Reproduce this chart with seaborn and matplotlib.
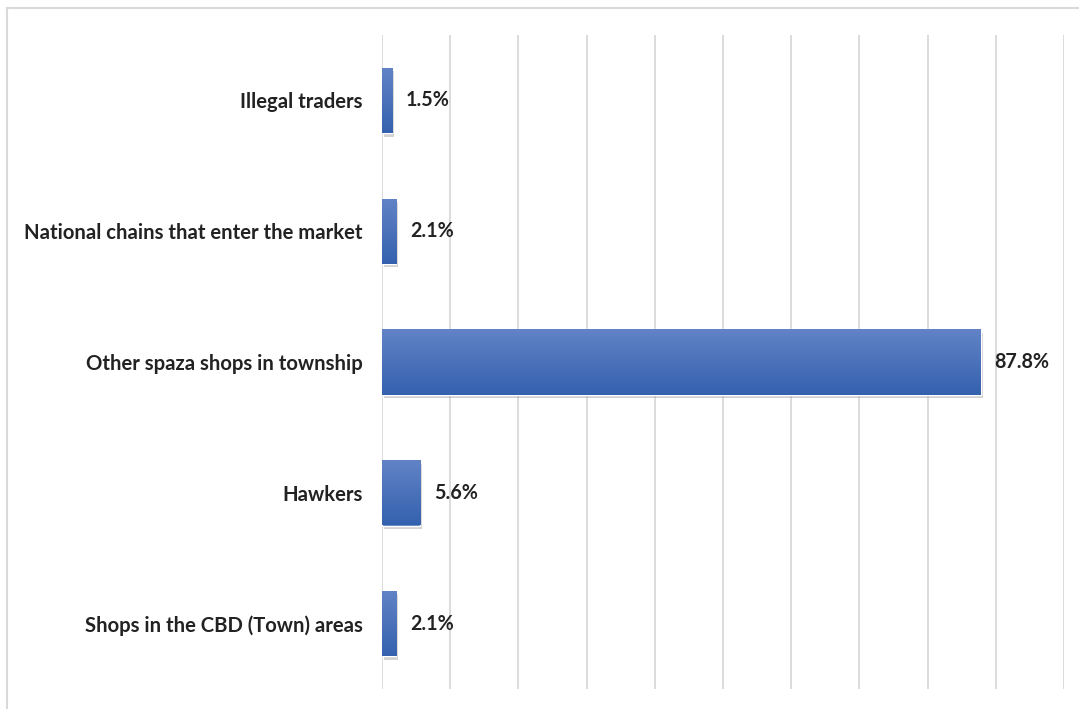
import numpy as np
import pandas as pd
import matplotlib
matplotlib.use("Agg")
import matplotlib.pyplot as plt
import matplotlib.patheffects as pe
import seaborn as sns

categories = ["Illegal traders", "National chains that enter the market",
              "Other spaza shops in township", "Hawkers", "Shops in the CBD (Town) areas"]
values = [1.5, 2.1, 87.8, 5.6, 2.1]
value_labels = ["1.5%", "2.1%", "87.8%", "5.6%", "2.1%"]

sns.set_theme(style="white")
plt.rcParams['font.family'] = ['Lato', 'DejaVu Sans']

df = pd.DataFrame({"cat": categories, "val": values})

fig = plt.figure(figsize=(10.79, 7.09), dpi=100)
ax = fig.add_axes([382/1079, 1-689/709, (1064-382)/1079, (689-35)/709])

sns.barplot(data=df, y="cat", x="val", orient="h", color="#4470b8", width=0.5,
            ax=ax, saturation=1)

ax.set_xlim(0, 100)
ax.set_ylim(4.5, -0.5)
ax.set_xticks(np.arange(0, 101, 10))
ax.set_xticklabels([])
ax.tick_params(axis='x', length=0)
ax.tick_params(axis='y', length=0, pad=14)
ax.grid(axis='x', color='#d9d9d9', linewidth=1.3)
ax.set_axisbelow(True)
for s in ax.spines.values():
    s.set_visible(False)
ax.set_xlabel("")
ax.set_ylabel("")
for lbl in ax.get_yticklabels():
    lbl.set_fontweight('bold')
    lbl.set_fontsize(14.6)
    lbl.set_color('#222222')

# gradient fill + shadow
grad = np.linspace(0, 1, 256).reshape(-1, 1)
cmap = matplotlib.colors.LinearSegmentedColormap.from_list("g", ["#6283c6", "#3461ae"])
for p, lab in zip(ax.patches, value_labels):
    p.set_path_effects([pe.SimplePatchShadow(offset=(1.5, -2.5), shadow_rgbFace='#808080', alpha=0.35),
                        pe.Normal()])
    x0, y0 = p.get_x(), p.get_y()
    w, h = p.get_width(), p.get_height()
    im = ax.imshow(grad, extent=[x0, x0 + w, y0 + h, y0], cmap=cmap, aspect='auto',
                   zorder=p.get_zorder() + 0.1, origin='upper')
    im.set_clip_path(p)
    ax.text(x0 + w + 2.0, y0 + h / 2, lab, va='center', ha='left', fontsize=14.2,
            fontweight='bold', color='#222222')
ax.set_xlim(0, 100)
ax.set_ylim(4.5, -0.5)

# outer frame (top and left)
fig.add_artist(plt.Line2D([7/1079, 1], [1-8/709, 1-8/709], color='#d9d9d9', lw=1.5))
fig.add_artist(plt.Line2D([7/1079, 7/1079], [0, 1-8/709], color='#d9d9d9', lw=1.5))

fig.savefig("out.png", dpi=100)
